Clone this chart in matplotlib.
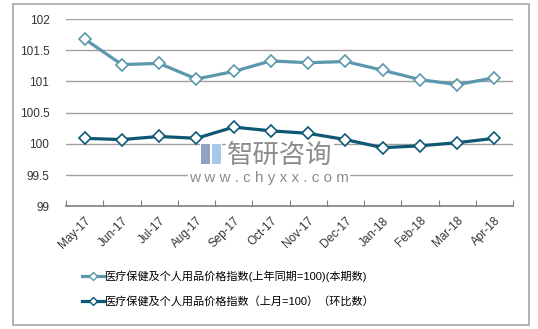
import matplotlib.pyplot as plt
from matplotlib.patches import Rectangle
from matplotlib.lines import Line2D

plt.rcParams['font.family'] = ['Liberation Sans', 'Noto Sans CJK SC']

months = ['May-17', 'Jun-17', 'Jul-17', 'Aug-17', 'Sep-17', 'Oct-17',
          'Nov-17', 'Dec-17', 'Jan-18', 'Feb-18', 'Mar-18', 'Apr-18']
yoy = [101.68, 101.27, 101.29, 101.04, 101.16, 101.33,
       101.30, 101.32, 101.18, 101.03, 100.95, 101.06]
mom = [100.09, 100.07, 100.12, 100.09, 100.27, 100.21,
       100.17, 100.07, 99.94, 99.97, 100.02, 100.09]
labels = ['医疗保健及个人用品价格指数(上年同期=100)(本期数)',
          '医疗保健及个人用品价格指数（上月=100）（环比数）']
colors = ['#5b97ad', '#0f5875']

fig = plt.figure(figsize=(5.38, 3.29), dpi=100)
ax = fig.add_axes([0.1227, 0.3726, 0.831, 0.5696])

x = list(range(len(months)))
for vals, c in zip([yoy, mom], colors):
    ax.plot(x, vals, color=c, lw=2.3, marker='D', ms=6.5,
            mfc='white', mec=c, mew=1.2, zorder=3)

ax.set_ylim(99, 102)
ax.set_yticks([99, 99.5, 100, 100.5, 101, 101.5, 102])
ax.set_yticklabels(['99', '99.5', '100', '100.5', '101', '101.5', '102'])
ax.set_xlim(-0.5, len(months) - 0.5)
ax.yaxis.grid(True, color='#a0a0a0', lw=1)
ax.set_axisbelow(True)
ax.tick_params(axis='y', length=0, labelsize=8.5, pad=12, colors='#333333')

# category boundaries carry the tick marks, labels sit at the centres
ax.set_xticks([i - 0.5 for i in range(len(months) + 1)])
ax.set_xticklabels([])
ax.tick_params(axis='x', direction='in', length=4, color='#7f7f7f')
ax.set_xticks(x, minor=True)
ax.set_xticklabels(months, minor=True, rotation=45, ha='right',
                   rotation_mode='anchor', fontsize=8.5, color='#333333')
ax.tick_params(axis='x', which='minor', length=0, pad=6)

for s in ['left', 'right', 'top']:
    ax.spines[s].set_visible(False)
ax.spines['bottom'].set_color('#7f7f7f')
ax.spines['bottom'].set_linewidth(1.2)

# outer frame
fig.patches.append(Rectangle((13 / 538, 4 / 329), 516 / 538, 321 / 329,
                             transform=fig.transFigure, fill=False,
                             ec='#a6a6a6', lw=1.2))

handles = [Line2D([], [], color=c, lw=2.3, marker='D', ms=4.5,
                  mfc='white', mec=c, mew=1.0) for c in colors]
fig.legend(handles, labels, loc='upper left',
           bbox_to_anchor=(78 / 538, 1 - 266 / 329), frameon=False,
           fontsize=8, handlelength=1.9, handletextpad=0.15,
           labelspacing=1.25, borderaxespad=0)

# watermark
fig.text(227 / 538, 1 - 155 / 329, '智研咨询', fontsize=19, color='#8c8c8c',
         va='center', ha='left', family='Noto Sans CJK SC',
         bbox=dict(fc='white', ec='none', pad=1), zorder=5)
fig.text(269 / 538, 1 - 178 / 329, 'w w w . c h y x x . c o m', fontsize=11,
         color='#8c8c8c', va='center', ha='center',
         bbox=dict(fc='white', ec='none', pad=0.5), zorder=5)
fig.patches.append(Rectangle((200 / 538, 1 - 165 / 329), 22 / 538, 22 / 329,
                             transform=fig.transFigure, fc='white', ec='none',
                             zorder=5))
fig.patches.append(Rectangle((201 / 538, 1 - 164 / 329), 9 / 538, 20 / 329,
                             transform=fig.transFigure, fc='#8ea3c4', ec='none',
                             zorder=6))
fig.patches.append(Rectangle((212 / 538, 1 - 164 / 329), 9 / 538, 20 / 329,
                             transform=fig.transFigure, fc='#a8c8e6', ec='none',
                             zorder=6))

fig.savefig('out.png', dpi=100)
